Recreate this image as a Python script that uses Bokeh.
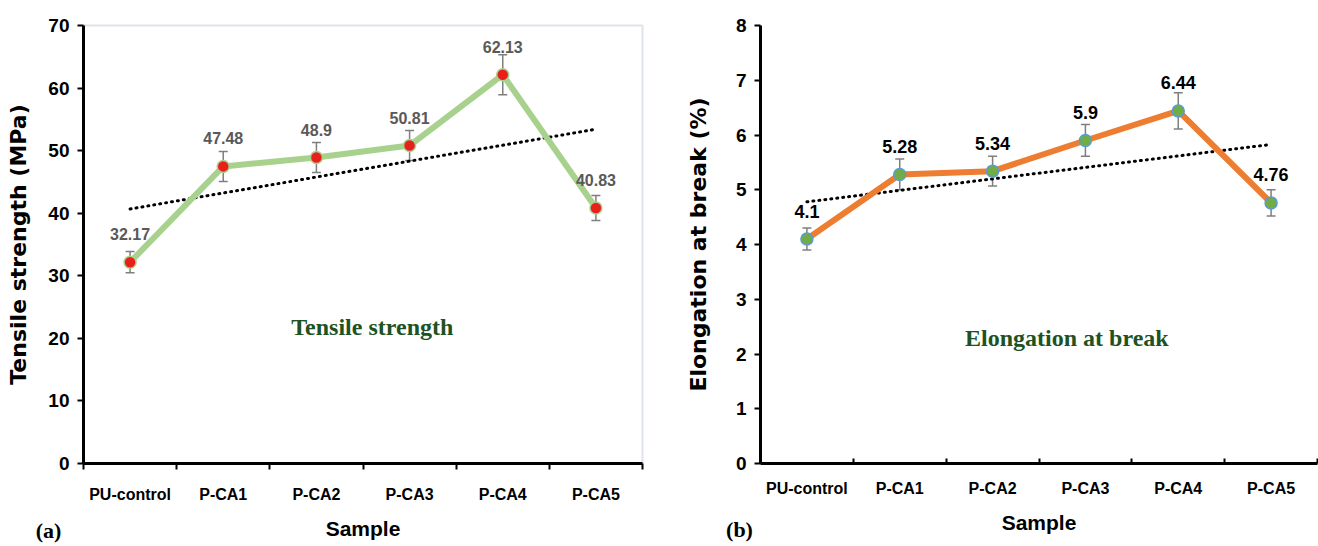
import numpy as np
from bokeh.plotting import figure
from bokeh.layouts import row
from bokeh.models import ColumnDataSource, FixedTicker, Whisker, TeeHead, Label, Range1d
from bokeh.core.properties import value
from bokeh.embed import file_html
from bokeh.resources import INLINE

# ---------------- data ----------------
samples = ["PU-control", "P-CA1", "P-CA2", "P-CA3", "P-CA4", "P-CA5"]
tensile = [32.17, 47.48, 48.9, 50.81, 62.13, 40.83]
tensile_err = [1.7, 2.4, 2.4, 2.4, 3.2, 2.0]
tensile_labels = ["32.17", "47.48", "48.9", "50.81", "62.13", "40.83"]
elong = [4.1, 5.28, 5.34, 5.9, 6.44, 4.76]
elong_err = [0.2, 0.28, 0.27, 0.29, 0.33, 0.24]
elong_labels = ["4.1", "5.28", "5.34", "5.9", "6.44", "4.76"]
tensile_ticks = [0, 10, 20, 30, 40, 50, 60, 70]
elong_ticks = [0, 1, 2, 3, 4, 5, 6, 7, 8]

SANS = "Liberation Sans"


def make_panel(vals, errs, labels, yticks, ytitle, note, note_xy, tag, tag_xy,
               line_color, fill, outline, label_color, label_size, w, borders,
               tick_out, tick_in, y_title_standoff, outline_frame):
    n = len(samples)
    xs = [i + 0.5 for i in range(n)]
    src = ColumnDataSource(dict(
        x=xs, y=vals, lo=[v - e for v, e in zip(vals, errs)],
        hi=[v + e for v, e in zip(vals, errs)], lab=labels))
    p = figure(width=w, height=546, output_backend="svg", toolbar_location=None,
               x_range=Range1d(0, n), y_range=Range1d(yticks[0], yticks[-1]),
               min_border_left=borders[0], min_border_right=borders[1],
               min_border_top=borders[2], min_border_bottom=borders[3])
    p.grid.visible = False
    p.background_fill_color = "white"
    p.border_fill_color = "white"
    if outline_frame:
        p.outline_line_color = "#dfe4ea"
        p.outline_line_width = 2
    else:
        p.outline_line_color = None

    # trend line (linear fit, as in the spreadsheet trendline)
    k, b = np.polyfit(np.arange(n), np.array(vals), 1)
    tx = [xs[0], xs[-1]]
    ty = [b, k * (n - 1) + b]
    p.line(tx, ty, line_color="black", line_width=3, line_dash="1 5", line_cap="round")

    p.line("x", "y", source=src, line_color=line_color, line_width=6, line_join="round")
    wh = Whisker(source=src, base="x", upper="hi", lower="lo",
                 line_color="#7f7f7f", line_width=1.5,
                 upper_head=TeeHead(size=9, line_color="#7f7f7f", line_width=1.5),
                 lower_head=TeeHead(size=9, line_color="#7f7f7f", line_width=1.5))
    p.add_layout(wh)
    p.scatter("x", "y", source=src, size=12, fill_color=fill, line_color=outline, line_width=1.5)
    p.text("x", "y", text="lab", source=src, text_align="center", text_baseline="middle",
           y_offset=-28, text_font=value(SANS), text_font_style="bold",
           text_font_size=label_size, text_color=label_color)

    # axes
    xa = p.xaxis[0]
    xa.ticker = FixedTicker(ticks=xs, minor_ticks=list(range(n + 1)))
    xa.major_label_overrides = {x: s for x, s in zip(xs, samples)}
    xa.major_tick_line_color = None
    xa.major_tick_out = 0
    xa.major_tick_in = 0
    xa.minor_tick_line_color = "black"
    xa.minor_tick_line_width = 2
    xa.minor_tick_out = tick_out
    xa.minor_tick_in = tick_in
    xa.axis_line_color = "black"
    xa.axis_line_width = 3
    xa.major_label_text_font = SANS
    xa.major_label_text_font_style = "bold"
    xa.major_label_text_font_size = "16px"
    xa.major_label_text_color = "black"
    xa.major_label_standoff = 16
    xa.axis_label = "Sample"
    xa.axis_label_text_font = SANS
    xa.axis_label_text_font_style = "bold"
    xa.axis_label_text_font_size = "21px"
    xa.axis_label_text_color = "black"
    xa.axis_label_standoff = 11

    ya = p.yaxis[0]
    ya.ticker = FixedTicker(ticks=yticks, minor_ticks=[])
    ya.axis_line_color = "black"
    ya.axis_line_width = 3
    ya.major_tick_line_color = "black"
    ya.major_tick_line_width = 2
    ya.major_tick_out = 6
    ya.major_tick_in = 0
    ya.major_label_text_font = SANS
    ya.major_label_text_font_style = "bold"
    ya.major_label_text_font_size = "19px"
    ya.major_label_text_color = "black"
    ya.major_label_standoff = 8
    ya.axis_label = ytitle
    ya.axis_label_text_font = "DejaVu Sans"
    ya.axis_label_text_font_style = "bold"
    ya.axis_label_text_font_size = "22px"
    ya.axis_label_text_color = "black"
    ya.axis_label_standoff = y_title_standoff

    p.add_layout(Label(x=note_xy[0], y=note_xy[1], text=note, text_align="center",
                       text_baseline="middle", text_font="Liberation Serif",
                       text_font_style="bold", text_font_size="24px", text_color="#1e5222"))
    # panel tag, kept in a side panel so that it is not clipped by the frame
    p.add_layout(Label(x=tag_xy[0], y=tag_xy[1], x_units="screen", y_units="screen", text=tag,
                       text_align="center", text_baseline="middle", text_line_height=0.1,
                       text_font="Liberation Serif", text_font_style="bold",
                       text_font_size="22px", text_color="black"), "above")
    return p


p1 = make_panel(tensile, tensile_err, tensile_labels, tensile_ticks,
                "Tensile strength (MPa)", "Tensile strength", (3.1, 21.8), "(a)", (-35, -505),
                "#a9d18e", "#e8201c", "#a9d18e", "#595959", "16px", 660,
                (83, 18, 17, 83), 6, 0, 14, True)
p2 = make_panel(elong, elong_err, elong_labels, elong_ticks,
                "Elongation at break (%)", "Elongation at break", (3.3, 2.3), "(b)", (-21, -504),
                "#ed7d31", "#70ad47", "#5b9bd5", "black", "18px", 658,
                (100, 1, 19, 76), 0, 5, 22, False)

layout = row(p1, p2)
open("out.html", "w").write(file_html(layout, INLINE))
